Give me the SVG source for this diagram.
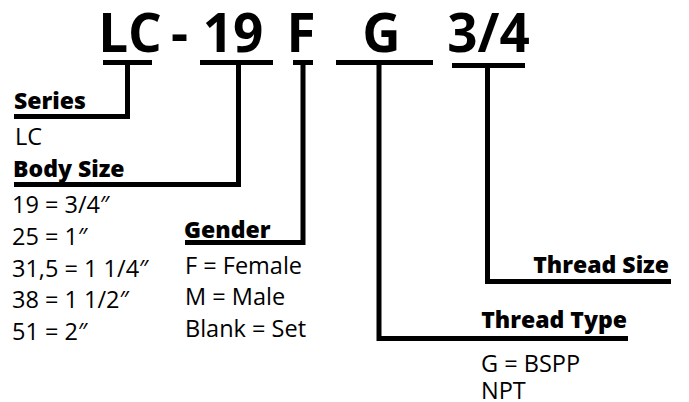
<svg xmlns="http://www.w3.org/2000/svg" width="689" height="402" viewBox="0 0 689 402">
<style>
.big{font-family:"Open Sans","Liberation Sans",sans-serif;font-weight:bold;font-size:53px;fill:#000;text-anchor:middle}
.h{font-family:"Open Sans","Liberation Sans",sans-serif;font-weight:800;font-size:23px;fill:#000}
.t{font-family:"Open Sans","Liberation Sans",sans-serif;font-size:23.5px;fill:#000}
.ln{fill:none;stroke:#000;stroke-width:5;stroke-linejoin:miter}
.bar{fill:#000}
</style>
<rect width="689" height="402" fill="#fff"/>
<g id="code">
<text class="big" x="130" y="52">LC</text>
<text class="big" x="179.5" y="52">-</text>
<text class="big" x="233" y="52">19</text>
<text class="big" x="301" y="52">F</text>
<text class="big" x="381.5" y="52">G</text>
<text class="big" x="488.5" y="52">3/4</text>
<rect class="bar" x="103" y="60" width="49" height="5"/>
<rect class="bar" x="200" y="60" width="73" height="5"/>
<rect class="bar" x="293" y="60" width="20" height="5"/>
<rect class="bar" x="336" y="60" width="97" height="5"/>
<rect class="bar" x="452" y="63" width="73" height="5"/>
</g>
<g id="connectors">
<path class="ln" d="M127.5 62 V116.5 H14"/>
<path class="ln" d="M238.5 62 V184.5 H14"/>
<path class="ln" d="M303 62 V242.5 H185"/>
<path class="ln" d="M379 62 V338.5 H628"/>
<path class="ln" d="M487.5 65 V281.5 H671"/>
</g>
<g id="series">
<text class="h" x="14" y="109">Series</text>
<text class="t" x="15" y="145">LC</text>
</g>
<g id="body-size">
<text class="h" x="13" y="177">Body Size</text>
<text class="t" x="12" y="213">19 = 3/4″</text>
<text class="t" x="12" y="245">25 = 1″</text>
<text class="t" x="12" y="277">31,5 = 1 1/4″</text>
<text class="t" x="12" y="308">38 = 1 1/2″</text>
<text class="t" x="12" y="340">51 = 2″</text>
</g>
<g id="gender">
<text class="h" x="184" y="238">Gender</text>
<text class="t" x="185" y="274">F = Female</text>
<text class="t" x="185" y="305">M = Male</text>
<text class="t" x="185" y="337">Blank = Set</text>
</g>
<g id="thread-size">
<text class="h" x="669" y="273" text-anchor="end">Thread Size</text>
</g>
<g id="thread-type">
<text class="h" x="627" y="328" text-anchor="end">Thread Type</text>
<text class="t" x="481" y="372">G = BSPP</text>
<text class="t" x="481" y="399">NPT</text>
</g>
</svg>
